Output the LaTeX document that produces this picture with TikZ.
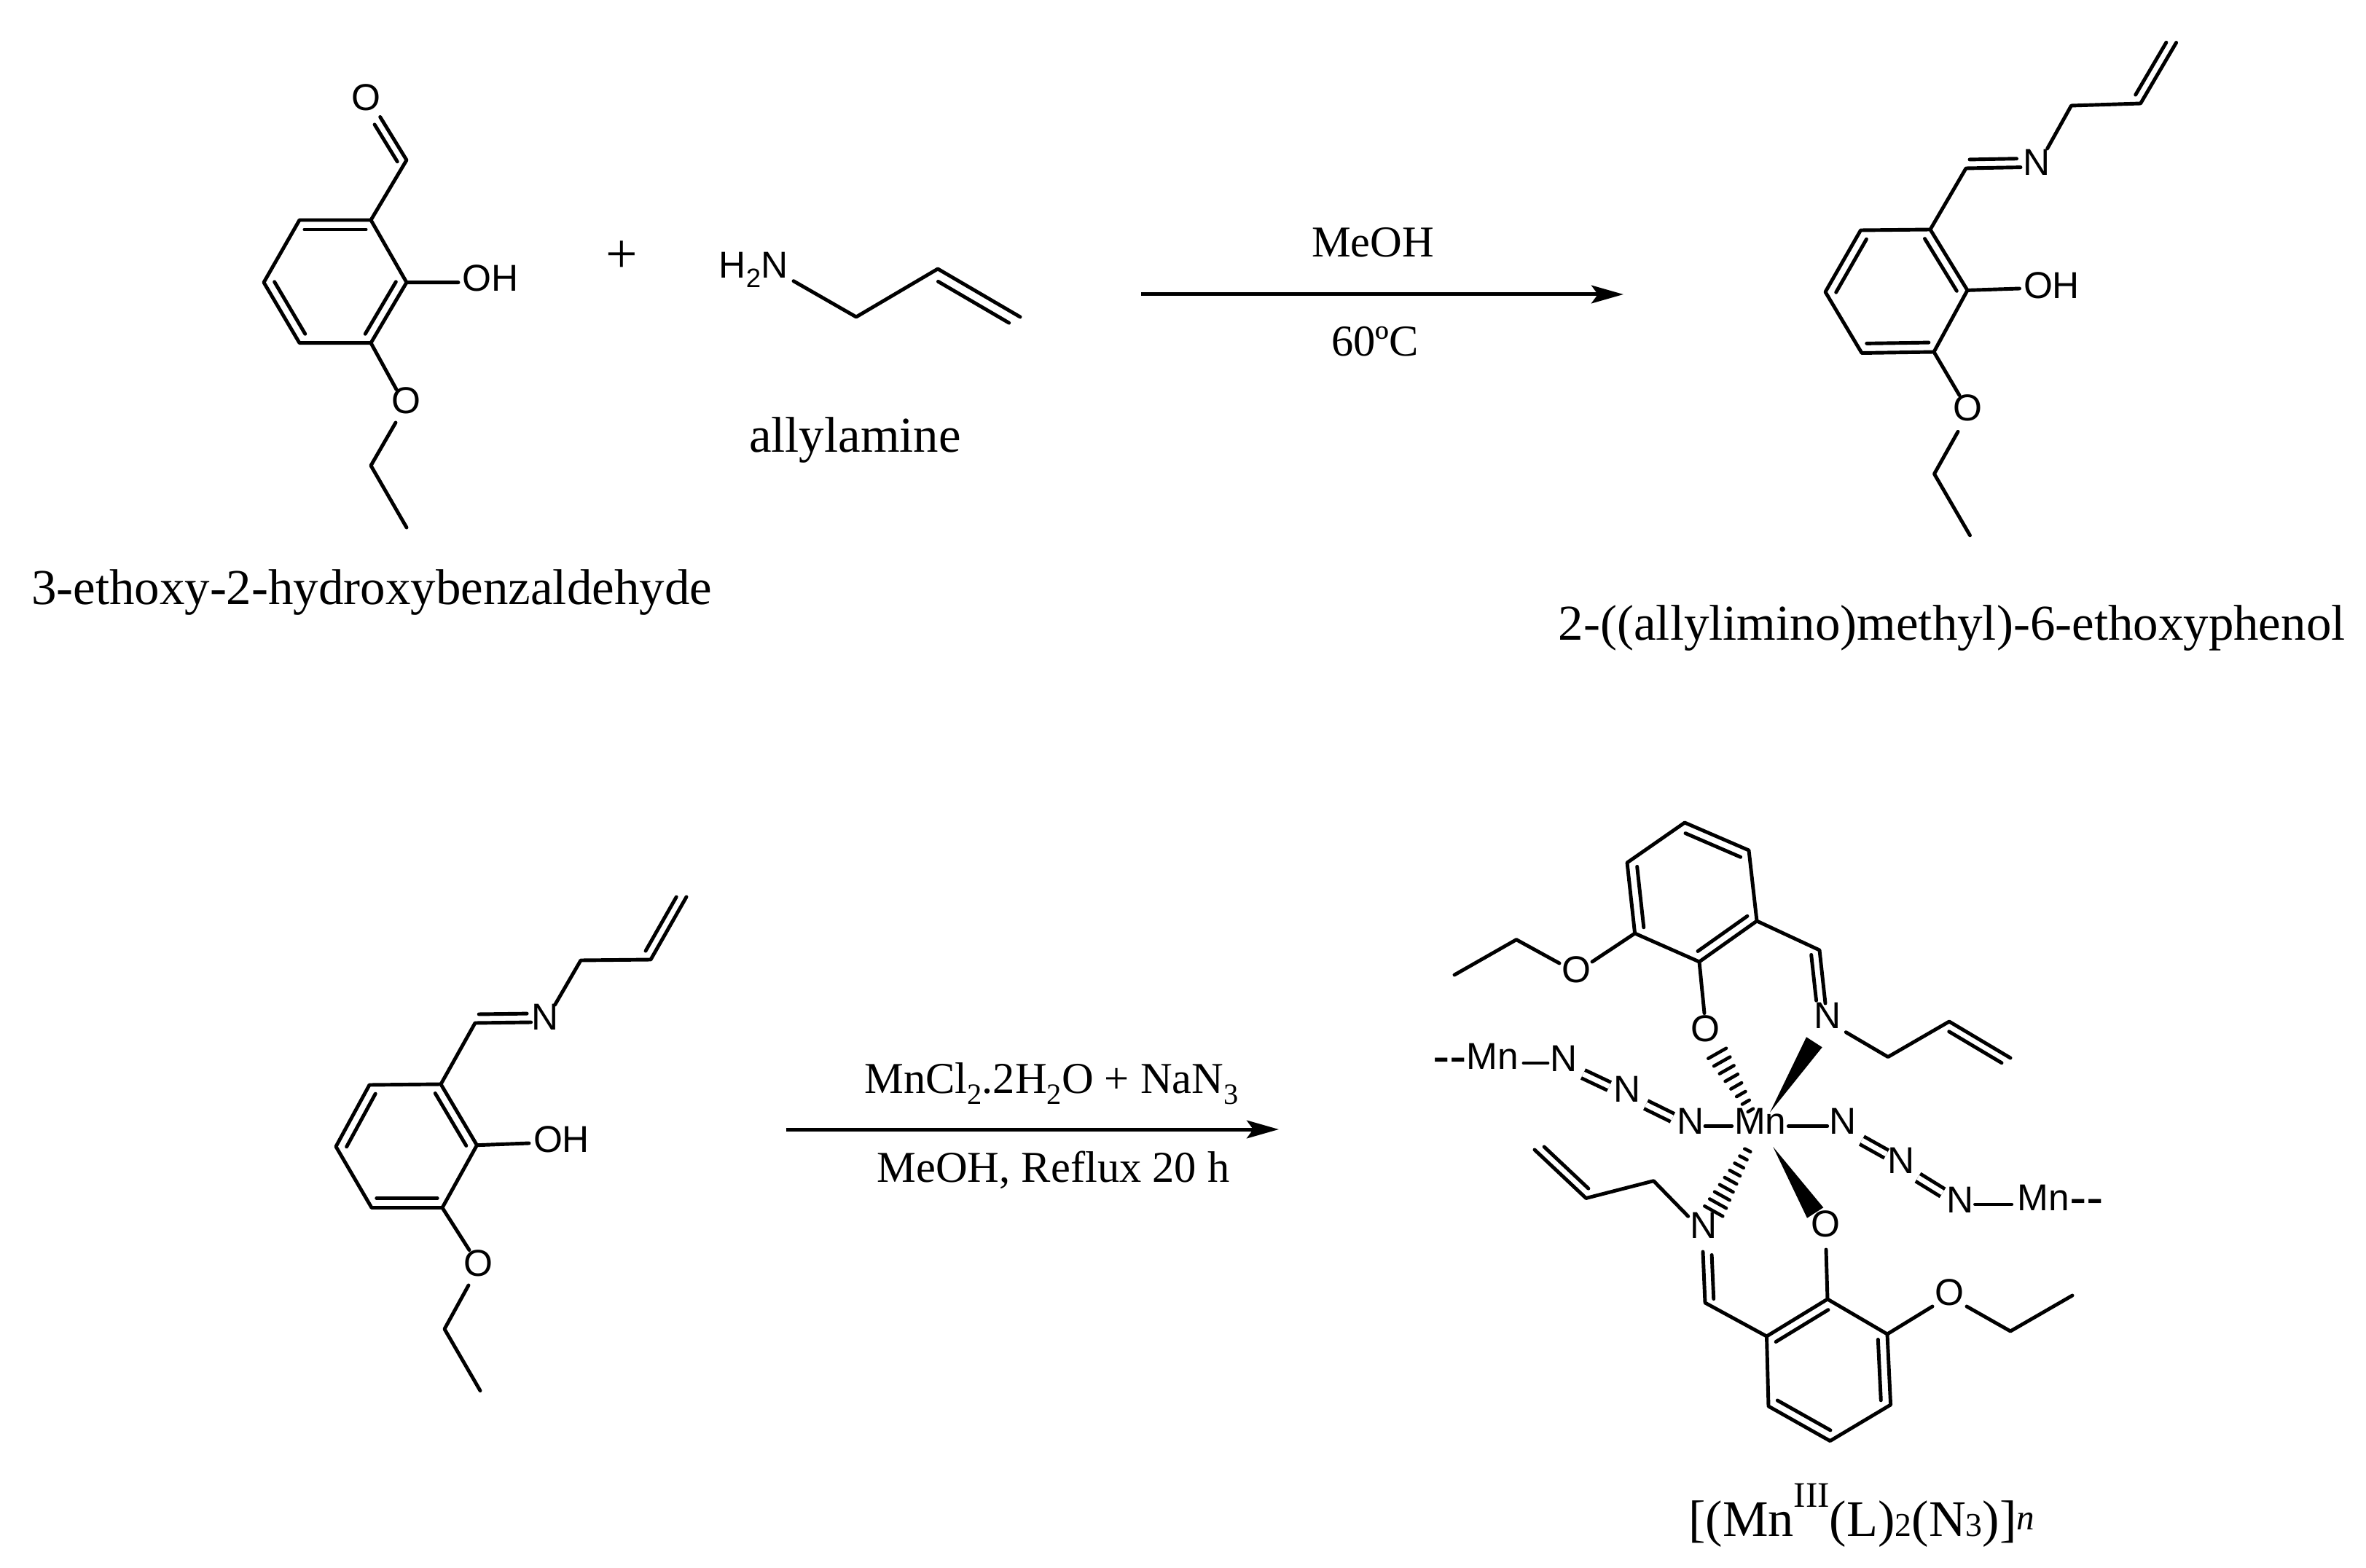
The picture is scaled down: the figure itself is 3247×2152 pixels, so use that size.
\documentclass[tikz,border=0pt]{standalone}
\usepackage{fontspec}
\setmainfont{Liberation Serif}
\newfontfamily\atomfont{Liberation Sans}
\usetikzlibrary{arrows.meta,calc}
\newcommand{\fsz}[2]{{\fontsize{#1}{#1}\selectfont #2}}
% second stroke of a double bond, on the left of p->q
\newcommand{\dbl}[3]{\draw[bond] ($(#1)!.07!(#2)!#3!90:(#2)$) -- ($(#2)!.07!(#1)!-#3!90:(#1)$);}

\begin{document}
\begin{tikzpicture}[x=0.01cm,y=-0.01cm,>={Stealth[length=12.5pt,width=7pt,inset=2.5pt]}]
 \tikzstyle{atom}=[inner sep=0pt,font=\atomfont\fontsize{14.6}{16}\selectfont]
 \tikzstyle{molname}=[inner sep=0pt,anchor=base,font=\fontsize{19.6}{22}\selectfont]
 \tikzstyle{cond}=[inner sep=0pt,anchor=base,font=\fontsize{17.2}{20}\selectfont]
 \tikzstyle{bond}=[line width=1.4pt,line cap=round,line join=round]
 \tikzstyle{azbond}=[line width=1.4pt,double,double distance=2pt]
 \tikzstyle{hash}=[line width=1.3pt,line cap=round]
 \useasboundingbox (0,0) rectangle (3247,2152);

 % aldehyde
 \path (509,302) coordinate (a1) (411,302) coordinate (a2) (362,387.6) coordinate (a3)
   (411,470.7) coordinate (a4) (509,470.7) coordinate (a5) (558,387.6) coordinate (a6)
   (558,219.7) coordinate (ac) (521.7,160.5) coordinate (aoc) (629,387.6) coordinate (aoh)
   (544,534.5) coordinate (ae1) (543,580) coordinate (ae2) (509,639) coordinate (ae3) (558,724) coordinate (ae4);
 \node[atom] (aO) at (502.5,134) {O};
 \node[atom] (aOH) at (673,381.4) {OH};
 \node[atom] (aOe) at (557,550) {O};
 \node[molname] (aname) at (510,830) {3-ethoxy-2-hydroxybenzaldehyde};
 \draw[bond] (a1)--(a2)--(a3)--(a4)--(a5)--(a6)--cycle;
 \draw[bond] (a1)--(ac)--(aoc) (a6)--(aoh) (a5)--(ae1) (ae2)--(ae3)--(ae4);
 \dbl{a1}{a2}{3.7pt} \dbl{a3}{a4}{3.7pt} \dbl{a5}{a6}{3.7pt} \dbl{ac}{aoc}{3.4pt}

 \node[molname,anchor=center,font=\fontsize{22}{24}\selectfont] (plus) at (853,353) {+};

 % allylamine
 \path (1089,385.7) coordinate (n1) (1175,435) coordinate (n2) (1287,369) coordinate (n3) (1400,435) coordinate (n4);
 \node[atom,anchor=base west] (nH) at (986,381.7) {H\raisebox{-3.7pt}{\fsz{10.4}{2}}N};
 \node[molname] (nname) at (1173.5,620.7) {allylamine};
 \draw[bond] (n1)--(n2)--(n3)--(n4);
 \dbl{n4}{n3}{4.2pt}

 % first arrow
 \path (1566,404) coordinate (r1) (2228,404) coordinate (r2);
 \draw[->,line width=1.42pt] (r1)--(r2);
 \node[cond] (r1a) at (1884,352.7) {MeOH};
 \node[cond] (r1b) at (1887,488.3) {60ºC};

 % imine, top
 \path (2649,315) coordinate (b1) (2553.5,316) coordinate (b2) (2505,400.7) coordinate (b3)
   (2555,484.5) coordinate (b4) (2654,483) coordinate (b5) (2700,398.4) coordinate (b6)
   (2698,231) coordinate (bc) (2773,229.6) coordinate (bn) (2809.6,204) coordinate (b7)
   (2842.5,145) coordinate (b8) (2937.6,142) coordinate (b9) (2986.6,58.5) coordinate (b10)
   (2771.5,396) coordinate (boh) (2689,542.5) coordinate (be1) (2687,592.4) coordinate (be2)
   (2654.5,650.4) coordinate (be3) (2703.5,734.8) coordinate (be4);
 \node[atom] (bN) at (2795,222.7) {N};
 \node[atom] (bOH) at (2815.5,392) {OH};
 \node[atom] (bOe) at (2700.6,559.7) {O};
 \node[molname] (bname) at (2678.7,878) {2-((allylimino)methyl)-6-ethoxyphenol};
 \draw[bond] (b1)--(b2)--(b3)--(b4)--(b5)--(b6)--cycle;
 \draw[bond] (b1)--(bc)--(bn) (b7)--(b8)--(b9)--(b10) (b6)--(boh) (b5)--(be1) (be2)--(be3)--(be4);
 \dbl{b6}{b1}{3.7pt} \dbl{b2}{b3}{3.7pt} \dbl{b4}{b5}{3.7pt} \dbl{bc}{bn}{3.4pt} \dbl{b9}{b10}{3.4pt}

 % imine, bottom
 \path (605,1488) coordinate (c1) (507,1489) coordinate (c2) (461,1573.6) coordinate (c3)
   (510,1657.5) coordinate (c4) (607,1657.5) coordinate (c5) (654.5,1571.7) coordinate (c6)
   (652,1404) coordinate (cc) (728.6,1403) coordinate (cn) (761.6,1379) coordinate (c7)
   (797,1318) coordinate (c8) (893,1317) coordinate (c9) (942,1231) coordinate (c10)
   (726,1569) coordinate (coh) (644,1715.6) coordinate (ce1) (643,1764) coordinate (ce2)
   (610,1824) coordinate (ce3) (659,1908.6) coordinate (ce4);
 \node[atom] (cN) at (748,1396) {N};
 \node[atom] (cOH) at (770.5,1564) {OH};
 \node[atom] (cOe) at (656,1733.6) {O};
 \draw[bond] (c1)--(c2)--(c3)--(c4)--(c5)--(c6)--cycle;
 \draw[bond] (c1)--(cc)--(cn) (c7)--(c8)--(c9)--(c10) (c6)--(coh) (c5)--(ce1) (ce2)--(ce3)--(ce4);
 \dbl{c6}{c1}{3.7pt} \dbl{c2}{c3}{3.7pt} \dbl{c4}{c5}{3.7pt} \dbl{cc}{cn}{3.4pt} \dbl{c9}{c10}{3.4pt}

 % second arrow
 \path (1078.6,1550) coordinate (s1) (1755,1550) coordinate (s2);
 \draw[->,line width=1.42pt] (s1)--(s2);
 \node[cond] (s1a) at (1443,1500) {MnCl\raisebox{-4.5pt}{\fsz{11.5}{2}}.2H\raisebox{-4.5pt}{\fsz{11.5}{2}}O + NaN\raisebox{-4.5pt}{\fsz{11.5}{3}}};
 \node[cond] (s1b) at (1445.6,1622) {MeOH, Reflux 20 h};

 % complex, upper ligand
 \path (2233,1184) coordinate (p1) (2312,1129) coordinate (p2) (2400,1167) coordinate (p3)
   (2411,1264) coordinate (p4) (2332,1320) coordinate (p5) (2243.6,1281) coordinate (p6)
   (2497,1304) coordinate (pc) (2505,1377) coordinate (pn) (2533.3,1416.7) coordinate (p7)
   (2591,1450.6) coordinate (p8) (2675,1402) coordinate (p9) (2759,1452) coordinate (p10)
   (2185,1320) coordinate (pe1) (2140,1322) coordinate (pe2) (2081,1289.6) coordinate (pe3)
   (1996,1338) coordinate (pe4) (2339,1390.6) coordinate (po);
 \node[atom] (pOe) at (2163,1330.5) {O};
 \node[atom] (pO) at (2340,1412) {O};
 \node[atom] (pN) at (2508,1394) {N};
 \draw[bond] (p1)--(p2)--(p3)--(p4)--(p5)--(p6)--cycle;
 \draw[bond] (p4)--(pc)--(pn) (p7)--(p8)--(p9)--(p10) (p6)--(pe1) (pe2)--(pe3)--(pe4) (p5)--(po);
 \dbl{p3}{p2}{3.7pt} \dbl{p1}{p6}{3.7pt} \dbl{p5}{p4}{3.7pt} \dbl{pn}{pc}{3.4pt} \dbl{p10}{p9}{3.4pt}

 % complex, lower ligand
 \path (2508,1783) coordinate (q1) (2424.5,1834) coordinate (q2) (2427,1930) coordinate (q3)
   (2511.5,1977.6) coordinate (q4) (2594.6,1928) coordinate (q5) (2590,1831) coordinate (q6)
   (2340,1788) coordinate (qc) (2337,1718) coordinate (qn) (2316.7,1669.3) coordinate (q7)
   (2269.3,1620.7) coordinate (q8) (2176.6,1644.5) coordinate (q9) (2106,1578) coordinate (q10)
   (2652,1793) coordinate (qe1) (2699,1793) coordinate (qe2) (2759,1827) coordinate (qe3)
   (2844,1778) coordinate (qe4) (2506,1715) coordinate (qo);
 \node[atom] (qOe) at (2675,1774) {O};
 \node[atom] (qO) at (2505,1680) {O};
 \node[atom] (qN) at (2338.3,1681.5) {N};
 \draw[bond] (q1)--(q2)--(q3)--(q4)--(q5)--(q6)--cycle;
 \draw[bond] (q2)--(qc)--(qn) (q7)--(q8)--(q9)--(q10) (q6)--(qe1) (qe2)--(qe3)--(qe4) (q1)--(qo);
 \dbl{q1}{q2}{3.7pt} \dbl{q3}{q4}{3.7pt} \dbl{q5}{q6}{3.7pt} \dbl{qn}{qc}{3.4pt} \dbl{q10}{q9}{3.4pt}

 % metal centre and azide chains
 \node[atom] (mn) at (2415.7,1539) {Mn};
 \node[atom] (z1) at (2320,1539) {N};
 \node[atom] (z2) at (2233,1495) {N};
 \node[atom] (z3) at (2146,1453) {N};
 \node[atom,anchor=east] (mnl) at (2085,1453) {\raisebox{-1.6pt}{\fsz{20}{--}}Mn};
 \node[atom] (y1) at (2529,1539) {N};
 \node[atom] (y2) at (2609,1593) {N};
 \node[atom] (y3) at (2690,1647) {N};
 \node[atom,anchor=west] (mnr) at (2768,1647) {Mn\raisebox{-1.6pt}{\fsz{20}{--}}};
 \path (2340,1545.7) coordinate (m1) (2376.7,1545.7) coordinate (m2) (2454.3,1545.7) coordinate (m3) (2507.7,1545.7) coordinate (m4)
   (2091,1459) coordinate (m5) (2124,1459) coordinate (m6) (2710.5,1653) coordinate (m7) (2760.7,1653) coordinate (m8)
   (2258.7,1516) coordinate (k1) (2295.3,1534) coordinate (k2) (2172.5,1474) coordinate (k3) (2208.5,1491) coordinate (k4)
   (2555,1565) coordinate (k5) (2589,1584) coordinate (k6) (2632,1616) coordinate (k7) (2666,1637) coordinate (k8);
 \draw[bond] (m1)--(m2) (m3)--(m4) (m5)--(m6) (m7)--(m8);
 \draw[azbond] (k1)--(k2) (k3)--(k4) (k5)--(k6) (k7)--(k8);

 % wedges
 \path (2429,1526.7) coordinate (w1) (2479,1423.3) coordinate (w2) (2500.7,1437.3) coordinate (w3)
   (2433.3,1574) coordinate (w4) (2480,1671.7) coordinate (w5) (2502.3,1657.3) coordinate (w6);
 \fill (w1)--(w2)--(w3)--cycle;
 \fill (w4)--(w5)--(w6)--cycle;
 \path (2344.3,1452.7) coordinate (h1) (2369,1438.7) coordinate (h2) (2398.7,1526) coordinate (h3) (2406,1521.7) coordinate (h4)
   (2339.3,1655.3) coordinate (h5) (2364.3,1669.3) coordinate (h6) (2394.3,1576.7) coordinate (h7) (2402.3,1580.7) coordinate (h8);
 \foreach \t in {0,...,7} \draw[hash] ($(h1)!\t/7!(h3)$) -- ($(h2)!\t/7!(h4)$);
 \foreach \t in {0,...,8} \draw[hash] ($(h5)!\t/8!(h7)$) -- ($(h6)!\t/8!(h8)$);

 \node[molname,anchor=base west,font=\fontsize{20}{22}\selectfont] (dname) at (2316.5,2108.3)
   {[(Mn\raisebox{11.4pt}{\fsz{14}{III}}(L)\fsz{13}{2}(N\fsz{13}{3})]\raisebox{2.6pt}{\fsz{14}{\itshape n}}};
\end{tikzpicture}
\end{document}
